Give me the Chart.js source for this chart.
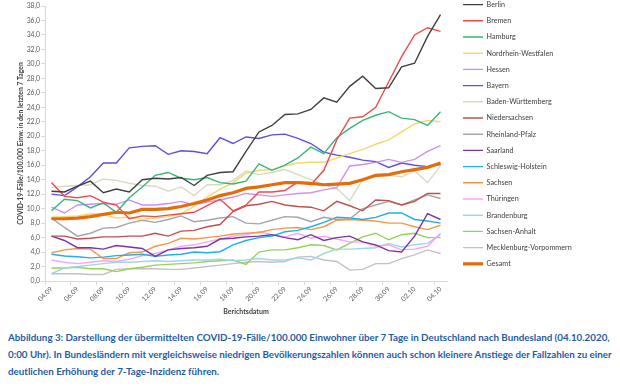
<!DOCTYPE html>
<html><head><meta charset="utf-8">
<script src="https://cdn.jsdelivr.net/npm/chart.js@4/dist/chart.umd.min.js"></script>
<style>
html,body{margin:0;padding:0;background:#fff;width:620px;height:386px;overflow:hidden;}
#wrap{position:absolute;left:0;top:-8px;width:620px;height:328px;}
#cap{position:absolute;left:8px;top:329px;color:#1f5ca8;font-family:Lato,"Open Sans",sans-serif;font-weight:bold;font-size:10px;line-height:17px;white-space:nowrap;}
</style></head>
<body>
<div id="wrap"><canvas id="c"></canvas></div>
<div id="cap"><span>Abbildung 3: Darstellung der übermittelten COVID-19-Fälle/100.000 Einwohner über 7 Tage in Deutschland nach Bundesland (04.10.2020,</span><br><span id="l2">0:00 Uhr). In Bundesländern mit vergleichsweise niedrigen Bevölkerungszahlen können auch schon kleinere Anstiege der Fallzahlen zu einer</span><br><span>deutlichen Erhöhung der 7-Tage-Inzidenz führen.</span></div>
<script>
const dates = ["04.09","05.09","06.09","07.09","08.09","09.09","10.09","11.09","12.09","13.09","14.09","15.09","16.09","17.09","18.09","19.09","20.09","21.09","22.09","23.09","24.09","25.09","26.09","27.09","28.09","29.09","30.09","01.10","02.10","03.10","04.10"];
const seriesNames = ["Berlin","Bremen","Hamburg","Nordrhein-Westfalen","Hessen","Bayern","Baden-Württemberg","Niedersachsen","Rheinland-Pfalz","Saarland","Schleswig-Holstein","Sachsen","Thüringen","Brandenburg","Sachsen-Anhalt","Mecklenburg-Vorpommern","Gesamt"];
const berlin = [12.4,12.3,13.1,13.8,12.2,12.7,12.3,14.0,14.2,14.1,14.3,13.2,14.6,15.0,15.1,17.9,20.6,21.5,23.0,23.1,23.7,25.3,24.7,26.9,28.3,26.6,26.7,29.6,30.1,33.8,36.8];
const bremen = [13.6,11.7,11.5,11.8,10.9,10.5,8.6,9.0,8.9,9.1,9.3,9.5,10.4,11.3,9.7,10.5,12.3,12.3,12.5,13.7,13.3,15.3,19.5,22.5,22.7,24.0,27.5,31.0,34.0,35.0,34.5];
const hamburg = [9.7,11.3,11.1,10.1,10.8,9.5,11.5,13.0,14.6,15.0,14.2,14.0,14.3,13.6,13.4,13.8,16.2,15.3,16.0,17.0,18.5,17.6,19.8,21.1,22.2,22.9,23.4,22.5,22.3,21.5,23.4];
const nrw = [8.8,8.9,9.0,9.3,9.2,8.7,8.8,8.5,8.7,8.9,9.3,10.3,11.6,12.7,13.6,14.9,15.3,15.4,15.9,16.3,16.4,16.4,17.0,17.6,18.2,18.9,19.5,20.6,21.7,22.2,22.0];
const hessen = [10.2,9.4,10.5,10.6,10.7,10.6,11.2,10.5,10.5,10.7,11.0,10.5,10.9,11.2,11.6,12.1,11.9,11.7,11.9,12.1,12.2,12.6,12.9,15.9,16.1,16.4,16.8,16.4,16.8,17.9,18.7];
const bayern = [12.0,11.8,13.0,14.4,16.3,16.3,18.4,18.6,18.7,17.5,18.0,17.9,17.6,19.8,19.0,19.9,19.7,20.2,20.3,19.7,19.0,17.8,17.4,17.1,16.7,16.5,15.7,16.3,16.0,15.8,16.1];
const bw = [12.9,13.1,13.2,13.3,14.1,13.9,13.5,13.2,13.1,12.4,13.0,11.8,13.3,13.3,13.9,15.2,14.7,15.0,15.4,14.7,14.0,13.3,12.8,11.1,14.0,14.4,14.6,14.4,15.2,13.6,15.9];
const niedersachsen = [6.2,6.2,5.8,5.9,6.1,6.1,6.2,6.2,6.6,6.2,6.9,7.0,7.5,7.8,9.6,10.4,10.6,11.0,10.5,10.3,10.2,9.7,11.0,10.4,9.7,11.2,11.1,10.5,11.0,12.1,12.1];
const rheinlandPfalz = [8.7,7.4,6.2,6.6,7.3,7.4,8.0,8.4,8.1,8.5,9.0,8.2,8.4,8.7,8.9,8.0,7.9,8.4,8.9,8.8,8.2,8.8,8.5,8.6,10.0,10.5,11.0,10.5,11.2,11.9,11.4];
const saarland = [6.2,5.6,4.6,4.6,4.4,4.9,4.7,4.5,3.4,4.3,4.5,4.6,4.8,5.8,5.9,6.1,6.2,6.4,6.0,5.7,6.4,5.6,6.0,6.2,5.4,5.0,4.2,4.0,6.2,9.3,8.5];
const schleswigHolstein = [3.7,3.45,3.35,3.2,3.3,3.5,3.6,3.7,3.4,3.6,3.7,4.0,3.9,4.05,5.0,5.6,6.0,6.2,6.8,7.0,7.5,8.1,8.8,8.7,8.5,8.8,9.4,9.4,8.5,8.3,8.0];
const sachsen = [3.9,4.3,4.5,4.4,3.1,3.1,3.9,4.0,4.8,5.2,5.9,5.8,6.0,6.2,6.5,6.6,6.7,7.1,7.3,7.4,7.1,7.5,8.4,8.5,8.4,8.3,8.0,8.0,7.5,7.1,7.7];
const thueringen = [2.9,2.6,2.4,2.6,2.8,2.7,3.0,3.5,3.8,4.3,4.8,5.0,5.4,5.8,6.2,6.4,6.8,6.4,6.1,6.6,5.9,6.2,5.8,5.4,5.4,4.8,5.0,4.3,4.4,4.8,6.6];
const brandenburg = [1.0,1.8,2.0,2.2,2.4,2.6,2.6,2.7,2.8,2.7,2.8,2.9,2.9,3.0,2.8,2.9,3.1,2.9,2.9,3.2,2.9,3.8,4.4,4.4,4.5,4.6,5.2,4.7,5.0,5.2,6.4];
const sachsenAnhalt = [1.8,1.8,1.9,1.7,1.7,1.3,1.7,1.9,2.2,2.3,2.4,2.5,2.7,2.8,2.9,2.3,4.0,4.3,4.3,4.6,5.0,4.9,4.3,5.2,6.1,6.6,5.7,6.4,6.6,6.0,6.0];
const mecklenburgVorpommern = [1.0,1.0,1.0,0.9,0.9,1.6,1.7,1.7,1.7,1.6,1.6,1.8,2.0,2.2,2.4,2.6,2.7,2.6,2.7,3.3,3.4,2.9,2.7,1.5,1.6,2.4,2.4,3.1,3.6,4.3,3.8];
const gesamt = [8.6,8.6,8.7,8.9,9.2,9.5,9.4,9.9,9.9,10.0,10.3,10.7,11.2,11.8,12.2,12.8,13.0,13.3,13.6,13.6,13.5,13.3,13.4,13.5,14.0,14.6,14.7,15.1,15.4,15.7,16.3];

const seriesValues = [berlin,bremen,hamburg,nrw,hessen,bayern,bw,niedersachsen,rheinlandPfalz,saarland,schleswigHolstein,sachsen,thueringen,brandenburg,sachsenAnhalt,mecklenburgVorpommern,gesamt];
const colors = ["#404040","#f24a4a","#35b878","#f5d76e","#d08ff0","#5b4fe0","#d6dcc0","#c0504d","#a5a5a5","#7a35a8","#1fb0ec","#f79646","#f7a6f2","#9ed6e6","#98d15a","#c4c0c8","#e46c0a"];

// fit caption font so that the second line spans the same width as in the picture
(function(){
  const l2 = document.getElementById('l2');
  const w = l2.getBoundingClientRect().width;
  const fs = 10 * 604 / w;
  document.getElementById('cap').style.fontSize = fs.toFixed(2) + 'px';
})();

const FONT = 'Lato,"Open Sans",sans-serif';
Chart.defaults.font.family = FONT;
Chart.defaults.color = '#595959';

const datasets = seriesNames.map((n,i)=>({
  label:n,
  data:seriesValues[i],
  borderColor:colors[i],
  backgroundColor:colors[i],
  borderWidth: i===16 ? 3.2 : 1.4,
  pointRadius:0,
  tension:0,
  fill:false,
  order: i===16 ? -1 : 0
}));

const chart = new Chart(document.getElementById('c'),{
  type:'line',
  data:{labels:dates,datasets},
  options:{
    responsive:true,maintainAspectRatio:false,animation:false,
    layout:{padding:{left:0,right:50,top:0,bottom:0}},
    plugins:{
      title:{display:true,text:'',padding:{top:14,bottom:0},font:{size:0.01}},
      tooltip:{enabled:false},
      legend:{position:'right',align:'start',maxWidth:220,
        labels:{usePointStyle:true,pointStyle:'line',pointStyleWidth:20,padding:9,
          font:{size:7.2},color:'#404040',
          sort:(a,b)=>a.datasetIndex-b.datasetIndex}}
    },
    scales:{
      x:{offset:true,
        grid:{offset:true,drawOnChartArea:false,tickLength:4,color:(c)=>c.index%2===0?'#d9d9d9':'rgba(0,0,0,0)'},
        border:{color:'#d9d9d9'},
        ticks:{autoSkip:false,minRotation:45,maxRotation:45,padding:0,font:{size:6.8},color:'#595959',
          callback:function(v,i){return i%2===0?this.getLabelForValue(v):'';}},
        title:{display:true,text:'Berichtsdatum',font:{size:7,weight:'bold'},color:'#404040',padding:{top:0,bottom:4}},
        afterFit:(s)=>{s.height=39;}
      },
      y:{min:0,max:38,
        grid:{drawOnChartArea:false,tickLength:4,color:'#d9d9d9'},
        border:{color:'#d9d9d9'},
        ticks:{stepSize:2,padding:1,font:{size:6.8},color:'#595959',
          callback:(v)=>v.toFixed(1).replace('.',',')},
        title:{display:true,text:'COVID-19-Fälle/100.000 Einw. in den letzten 7 Tagen',font:{size:6.8,weight:'bold'},color:'#404040',padding:{top:17,bottom:0}},
        afterFit:(s)=>{s.width=45;}
      },
      y2:{position:'right',display:true,min:0,max:1,
        grid:{display:false,drawTicks:false},border:{display:false},ticks:{display:false},
        afterFit:(s)=>{s.width=7;}
      }
    }
  }
});
// place the plot's right edge at x=447 and the legend right after it
const padR = Math.max(0, 620 - 454 - chart.legend.width);
chart.options.layout.padding.right = padR;
chart.update();
</script>
</body></html>
